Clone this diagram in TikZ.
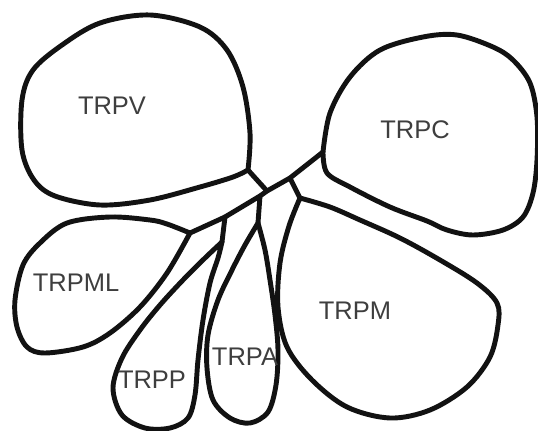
\documentclass[tikz,border=0pt]{standalone}
\usepackage{fontspec}
\setmainfont{Liberation Sans}
\usepackage{xcolor}
\usetikzlibrary{positioning}
\definecolor{inkblack}{RGB}{18,18,18}
\definecolor{pencilgray}{RGB}{62,62,62}

\begin{document}
\begin{tikzpicture}[x=0.02cm,y=-0.02cm,line width=2.8pt,line join=round,line cap=round]
\tikzstyle{blob}=[draw=inkblack,smooth,tension=0.55]
\tikzstyle{stalk}=[draw=inkblack]
\tikzstyle{lbl}=[font=\fontsize{14.5}{16}\selectfont,text=pencilgray,inner sep=0pt]
\useasboundingbox (0,0) rectangle (538,430);
\coordinate (tipC) at (323,152);
\coordinate (tipV) at (248,170);
\coordinate (tipML) at (190,233);
\coordinate (tipP) at (222,242);
\coordinate (tipA) at (258,223);
\coordinate (tipM) at (300,198);
\coordinate (brM) at (290,178);
\coordinate (brV) at (267,191);
\coordinate (brA) at (260,196);
\coordinate (brP) at (225,217);
\draw[blob] plot coordinates {(tipV) (250,133) (243,87) (227,50) (200,27) (150,15) (100,23) (62,45) (33,70) (22,100) (22,150) (34,180) (55,196) (100,205) (150,200) (200,187) (233,177) (tipV)};
\draw[blob] plot coordinates {(tipC) (330,113) (350,77) (380,50) (423,37) (457,35) (493,47) (513,60) (530,83) (537,117) (537,160) (533,193) (523,217) (503,230) (473,235) (447,230) (427,221) (390,207) (350,187) (327,173) (tipC)};
\draw[blob] plot coordinates {(tipML) (167,224) (150,220) (110,217) (67,223) (40,243) (23,265) (15,300) (17,327) (27,347) (45,353) (83,347) (110,333) (140,307) (167,273) (tipML)};
\draw[blob] plot coordinates {(tipP) (205,258) (183,280) (160,305) (140,330) (122,358) (113,388) (122,415) (145,428) (170,428) (188,418) (195,395) (198,360) (203,320) (210,283) (218,258) (tipP)};
\draw[blob] plot coordinates {(tipA) (245,245) (232,270) (218,300) (208,335) (207,368) (213,400) (230,418) (250,423) (268,412) (276,385) (278,350) (275,315) (270,280) (265,250) (tipA)};
\draw[blob] plot coordinates {(tipM) (330,207) (360,220) (400,238) (440,260) (477,283) (497,303) (498,325) (490,357) (467,387) (430,410) (390,418) (347,407) (312,380) (287,347) (278,307) (280,263) (289,226) (tipM)};
\draw[stalk] (tipC) -- (brM) -- (brV) -- (brA) -- (brP) -- (tipML);
\draw[stalk] (brM) -- (tipM);
\draw[stalk] (brV) -- (tipV);
\draw[stalk] (brA) -- (tipA);
\draw[stalk] (brP) -- (tipP);
\node[lbl] (labV) at (112,106) {TRPV};
\node[lbl] (labC) at (415,130) {TRPC};
\node[lbl] (labML) at (76,283) {TRPML};
\node[lbl] (labM) at (355,311) {TRPM};
\node[lbl] (labP) at (152,380) {TRPP};
\node[lbl] (labA) at (245,357) {TRPA};
\end{tikzpicture}
\end{document}
